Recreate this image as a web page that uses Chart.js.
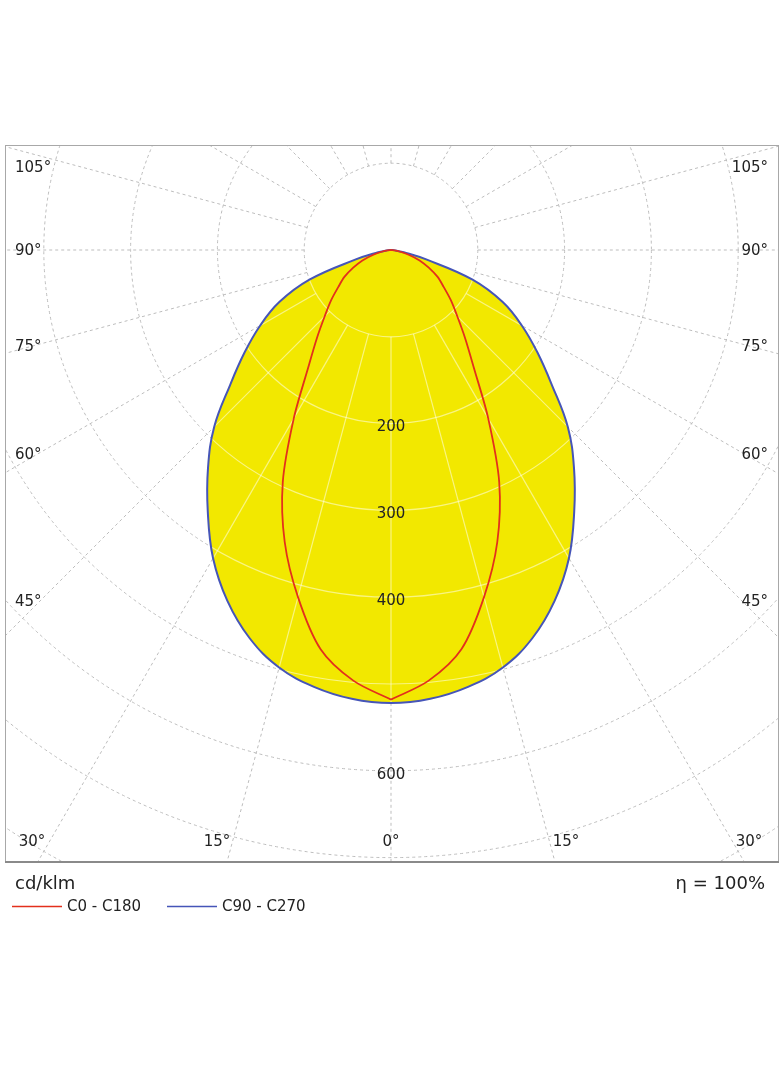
<!DOCTYPE html>
<html>
<head>
<meta charset="utf-8">
<script src="https://cdn.jsdelivr.net/npm/chart.js@4.4.0/dist/chart.umd.min.js"></script>
<style>
  body { margin: 0; background: #fff; }
  canvas { display: block; }
</style>
</head>
<body>
<canvas id="ldc" width="784" height="1066"></canvas>
<script>
// gamma angles (deg from nadir) and intensities in cd/klm
const gammaAngles = [0, 5, 10, 15, 20, 25, 30, 35, 40, 45, 50, 55, 60, 65, 70, 75, 80, 85, 90];
const c0c180 = [518, 498, 467, 414, 358, 295, 224, 167, 133, 108, 90, 74, 62, 48, 35, 21, 10, 4, 0];
const c90c270 = [522, 519, 511, 498, 476, 446, 410, 368, 328, 288, 242, 206, 174, 142, 100, 42, 15, 5, 0];

const ringValues = [100, 200, 300, 400, 500, 600, 700, 800, 900];
const ringLabels = [200, 300, 400, 600];
const sideAngleLabels = ['105°', '90°', '75°', '60°', '45°'];
const bottomAngleLabels = ['30°', '15°', '0°', '15°', '30°'];
const legendNames = ['C0 - C180', 'C90 - C270'];
const unitLabel = 'cd/klm';
const efficiencyLabel = 'η = 100%';

const FONT = '"DejaVu Sans", Verdana, sans-serif';
const RED = '#e3301c';
const BLUE = '#4655b8';
const YELLOW = '#f2e800';

// polar (gamma from nadir) -> x/y in cd/klm; side -1 = left half, +1 = right half
function half(values, side) {
  const pts = gammaAngles.map((g, i) => {
    const a = g * Math.PI / 180;
    return { x: side * values[i] * Math.sin(a), y: -values[i] * Math.cos(a) };
  });
  return side < 0 ? pts.reverse() : pts;
}
function whole(values) {
  return half(values, -1).concat(half(values, 1).slice(1));
}

// plot box and centre in pixels, and pixels per cd/klm
const box = { left: 5, right: 779, top: 145, bottom: 862 };
const centre = { x: 391, y: 250 };
const k = 0.868;

function drawGrid(chart, ctx, color, dash, width) {
  const xs = chart.scales.x, ys = chart.scales.y;
  const cx = xs.getPixelForValue(0), cy = ys.getPixelForValue(0);
  const px = v => xs.getPixelForValue(v) - cx;
  ctx.save();
  ctx.strokeStyle = color;
  ctx.lineWidth = width;
  ctx.setLineDash(dash);
  ringValues.forEach(r => {
    ctx.beginPath();
    ctx.arc(cx, cy, px(r), 0, Math.PI * 2);
    ctx.stroke();
  });
  const inner = px(ringValues[0]), outer = px(1200);
  for (let a = 0; a < 360; a += 15) {
    const t = a * Math.PI / 180;
    ctx.beginPath();
    ctx.moveTo(cx + inner * Math.sin(t), cy + inner * Math.cos(t));
    ctx.lineTo(cx + outer * Math.sin(t), cy + outer * Math.cos(t));
    ctx.stroke();
  }
  ctx.restore();
}

const polarPlugin = {
  id: 'polar',
  beforeDatasetsDraw(chart) {
    const ctx = chart.ctx, area = chart.chartArea;
    ctx.save();
    ctx.beginPath();
    ctx.rect(area.left, area.top, area.right - area.left, area.bottom - area.top);
    ctx.clip();
    drawGrid(chart, ctx, '#bdbdbd', [3, 3], 1);
    ctx.restore();
  },
  beforeDatasetDraw(chart, args) {
    if (args.index !== 2) return;
    const ctx = chart.ctx;
    const pts = chart.getDatasetMeta(2).data;
    ctx.save();
    ctx.beginPath();
    pts.forEach((p, i) => i ? ctx.lineTo(p.x, p.y) : ctx.moveTo(p.x, p.y));
    ctx.closePath();
    ctx.clip();
    drawGrid(chart, ctx, 'rgba(255,255,235,0.55)', [], 1.2);
    ctx.restore();
  },
  afterDraw(chart) {
    const ctx = chart.ctx, area = chart.chartArea;
    const xs = chart.scales.x, ys = chart.scales.y;
    const cx = xs.getPixelForValue(0);
    ctx.save();
    // frame
    ctx.strokeStyle = '#a8a8a8';
    ctx.lineWidth = 1;
    ctx.strokeRect(area.left + 0.5, area.top + 0.5, area.right - area.left - 1, area.bottom - area.top - 1);
    ctx.strokeStyle = '#8a8a8a';
    ctx.lineWidth = 2;
    ctx.beginPath();
    ctx.moveTo(area.left, area.bottom);
    ctx.lineTo(area.right, area.bottom);
    ctx.stroke();

    ctx.fillStyle = '#222';
    ctx.font = '15px ' + FONT;
    ctx.textBaseline = 'middle';
    // ring values along nadir
    ctx.textAlign = 'center';
    ringLabels.forEach(v => {
      ctx.fillText(String(v), cx, ys.getPixelForValue(-v) + 4);
    });
    // side angle labels
    const sideY = [168, 251, 347, 455, 602];
    sideAngleLabels.forEach((t, i) => {
      ctx.textAlign = 'left';
      ctx.fillText(t, area.left + 10, sideY[i]);
      ctx.textAlign = 'right';
      ctx.fillText(t, area.right - 11, sideY[i]);
    });
    // bottom angle labels
    const bottomX = [32, 217, 391, 566, 749];
    ctx.textAlign = 'center';
    bottomAngleLabels.forEach((t, i) => ctx.fillText(t, bottomX[i], 842));

    // units, efficiency and legend
    ctx.font = '18px ' + FONT;
    ctx.textAlign = 'left';
    ctx.fillText(unitLabel, 15, 884);
    ctx.textAlign = 'right';
    ctx.fillText(efficiencyLabel, 765, 884);

    ctx.font = '15px ' + FONT;
    ctx.textAlign = 'left';
    const legendX = [12, 167];
    [RED, BLUE].forEach((c, i) => {
      ctx.strokeStyle = c;
      ctx.lineWidth = 1.5;
      ctx.beginPath();
      ctx.moveTo(legendX[i], 906.5);
      ctx.lineTo(legendX[i] + 50, 906.5);
      ctx.stroke();
      ctx.fillText(legendNames[i], legendX[i] + 55, 907);
    });
    ctx.restore();
  }
};

const redLine = {
  showLine: true,
  borderColor: RED,
  borderWidth: 1.8,
  pointRadius: 0,
  tension: 0.3,
  fill: false
};

new Chart(document.getElementById('ldc'), {
  type: 'scatter',
  data: {
    datasets: [
      // C0 and C180 halves kept apart so the nadir point stays sharp
      Object.assign({ label: legendNames[0], data: half(c0c180, -1) }, redLine),
      Object.assign({ label: legendNames[0], data: half(c0c180, 1) }, redLine),
      {
        label: legendNames[1],
        data: whole(c90c270),
        showLine: true,
        borderColor: BLUE,
        borderWidth: 2,
        backgroundColor: YELLOW,
        pointRadius: 0,
        tension: 0.4,
        fill: 'shape'
      }
    ]
  },
  options: {
    responsive: false,
    animation: false,
    events: [],
    layout: {
      padding: { left: box.left, right: 784 - box.right, top: box.top, bottom: 1066 - box.bottom }
    },
    scales: {
      x: { type: 'linear', display: false, min: -(centre.x - box.left) / k, max: (box.right - centre.x) / k },
      y: { type: 'linear', display: false, min: -(box.bottom - centre.y) / k, max: (centre.y - box.top) / k }
    },
    plugins: {
      legend: { display: false },
      tooltip: { enabled: false }
    }
  },
  plugins: [polarPlugin]
});
</script>
</body>
</html>
